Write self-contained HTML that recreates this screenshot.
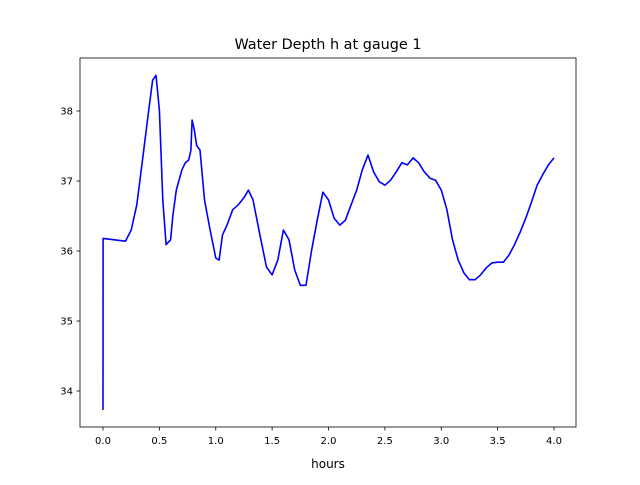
<!DOCTYPE html>
<html><head><meta charset="utf-8"><style>
body{margin:0;background:#fff;}
svg text{font-family:"DejaVu Sans","Liberation Sans",sans-serif;fill:#000;}
</style></head><body>
<svg id="chart" width="640" height="480" xmlns="http://www.w3.org/2000/svg">
<rect width="640" height="480" fill="#fff"/>
<text x="328" y="49" font-size="14.4" text-anchor="middle">Water Depth h at gauge 1</text>
<text x="328" y="468" font-size="12" text-anchor="middle">hours</text>
<g id="plot"></g>
<rect x="80" y="58" width="496" height="369" fill="none" stroke="#000" stroke-width="0.8"/>
</svg>
<script>
const hours=[0,0.001,0.1,0.2,0.25,0.3,0.35,0.4,0.44,0.47,0.5,0.53,0.56,0.6,0.62,0.65,0.7,0.73,0.76,0.78,0.79,0.81,0.83,0.86,0.9,0.95,1.0,1.03,1.06,1.1,1.15,1.2,1.25,1.29,1.33,1.4,1.45,1.5,1.55,1.6,1.65,1.7,1.75,1.8,1.85,1.9,1.95,2.0,2.05,2.1,2.15,2.2,2.25,2.3,2.35,2.4,2.45,2.5,2.55,2.6,2.65,2.7,2.75,2.8,2.85,2.9,2.95,3.0,3.05,3.1,3.15,3.2,3.25,3.3,3.35,3.4,3.45,3.5,3.55,3.6,3.65,3.7,3.75,3.8,3.85,3.9,3.95,4.0];
const depth=[33.73,36.18,36.16,36.14,36.3,36.66,37.3,37.94,38.44,38.51,38.01,36.73,36.09,36.16,36.51,36.87,37.16,37.26,37.3,37.44,37.87,37.73,37.51,37.44,36.73,36.3,35.9,35.87,36.23,36.37,36.59,36.66,36.76,36.87,36.73,36.16,35.77,35.66,35.87,36.3,36.16,35.73,35.51,35.51,36.01,36.44,36.84,36.73,36.47,36.37,36.44,36.66,36.87,37.16,37.37,37.13,36.99,36.94,37.01,37.13,37.26,37.23,37.33,37.26,37.13,37.04,37.01,36.87,36.59,36.16,35.87,35.69,35.59,35.59,35.66,35.76,35.83,35.84,35.84,35.94,36.09,36.27,36.47,36.7,36.94,37.09,37.23,37.33];
const xTicks=[0,0.5,1,1.5,2,2.5,3,3.5,4];
const yTicks=[34,35,36,37,38];
const X=v=>103+v*112.75;
const Y=v=>111+(38-v)*70;
const NS="http://www.w3.org/2000/svg";
const g=document.getElementById('plot');
function mk(t,a){const e=document.createElementNS(NS,t);for(const k in a)e.setAttribute(k,a[k]);g.appendChild(e);return e;}
xTicks.forEach(v=>{
 const l=mk('line',{x1:X(v),x2:X(v),y1:427,y2:430.5,stroke:'#000','stroke-width':0.8});
 
 
 const t=mk('text',{x:X(v),y:444,'font-size':10,'text-anchor':'middle'});
 t.textContent=v.toFixed(1);
 
 
});
yTicks.forEach(v=>{
 const l=mk('line',{x1:76.5,x2:80,y1:Y(v),y2:Y(v),stroke:'#000','stroke-width':0.8});
 
 
 const t=mk('text',{x:73,y:Y(v)+3.5,'font-size':10,'text-anchor':'end'});
 t.textContent=v;
 
 
});
const d=hours.map((h,i)=>(i?'L':'M')+X(h).toFixed(1)+' '+Y(depth[i]).toFixed(1)).join(' ');
const p=mk('path',{d:d,fill:'none',stroke:'#0000ff','stroke-width':1.6,'stroke-linejoin':'round'});


</script>
</body></html>
